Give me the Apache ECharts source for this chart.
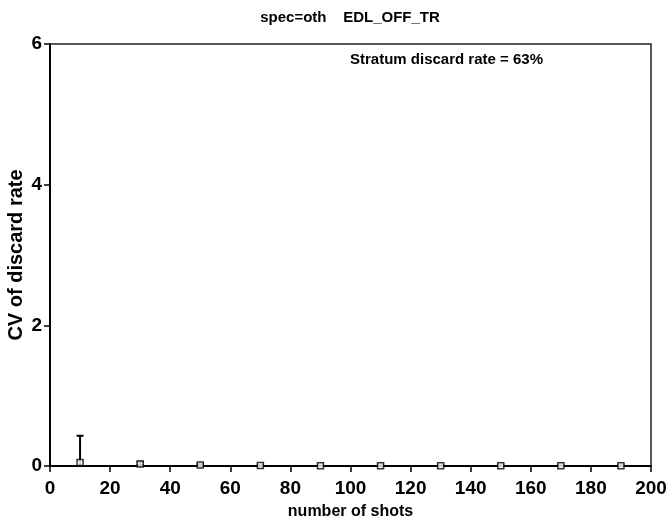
<!DOCTYPE html>
<html><head><meta charset="utf-8">
<script src="https://cdn.jsdelivr.net/npm/echarts@6/dist/echarts.min.js"></script>
<style>html,body{margin:0;padding:0;background:#fff}#c{width:672px;height:526px}</style>
</head><body><div id="c"></div>
<script>
var shots = [10, 30, 50, 70, 90, 110, 130, 150, 170, 190];
var cvMean = [0.05, 0.03, 0.015, 0.006, 0.005, 0.005, 0.005, 0.005, 0.005, 0.005];
var cvLow = [0.0, 0.015, 0.008, 0.003, 0.002, 0.002, 0.002, 0.002, 0.002, 0.002];
var cvHigh = [0.43, 0.06, 0.03, 0.01, 0.008, 0.008, 0.008, 0.008, 0.008, 0.008];
var xTicks = [0, 20, 40, 60, 80, 100, 120, 140, 160, 180, 200];
var yTicks = [0, 2, 4, 6];
var titleText = 'spec=oth    EDL_OFF_TR';
var noteText = 'Stratum discard rate = 63%';
var yTitle = 'CV of discard rate';
var xTitle = 'number of shots';

var font = 'Liberation Sans, Arial, sans-serif';
var chart = echarts.init(document.getElementById('c'));
var errData = shots.map(function (s, i) { return [s, cvLow[i], cvHigh[i]]; });
chart.setOption({
  animation: false,
  grid: { left: 50, right: 21, top: 44, bottom: 60, containLabel: false, outerBoundsMode: 'none',
    show: true, borderColor: '#222', borderWidth: 1.5 },
  xAxis: { type: 'value', min: 0, max: 200, interval: 20,
    name: xTitle, nameLocation: 'middle', nameGap: 38,
    nameTextStyle: { fontFamily: font, fontWeight: 'bold', fontSize: 16, color: '#000' },
    axisLine: { lineStyle: { color: '#000', width: 2 } },
    axisTick: { length: 6, lineStyle: { color: '#000', width: 1.5 } },
    axisLabel: { fontFamily: font, fontWeight: 'bold', fontSize: 19, color: '#000', margin: 13 },
    splitLine: { show: false } },
  yAxis: { type: 'value', min: 0, max: 6, interval: 2,
    axisLine: { show: true, lineStyle: { color: '#000', width: 2 } },
    axisTick: { show: true, length: 6, lineStyle: { color: '#000', width: 1.5 } },
    axisLabel: { fontFamily: font, fontWeight: 'bold', fontSize: 19, color: '#000', margin: 8 },
    splitLine: { show: false } },
  graphic: [
    { type: 'text', x: 350, y: 10,
      style: { text: titleText, textAlign: 'center', fontFamily: font, fontWeight: 'bold', fontSize: 15, fill: '#000' } },
    { type: 'text', x: 350, y: 52,
      style: { text: noteText, fontFamily: font, fontWeight: 'bold', fontSize: 15, fill: '#000' } },
    { type: 'text', x: 16, y: 255, rotation: Math.PI / 2,
      style: { text: yTitle, textAlign: 'center', textVerticalAlign: 'middle', fontFamily: font, fontWeight: 'bold', fontSize: 20, fill: '#000' } }
  ],
  series: [
    { type: 'custom', data: errData, z: 3,
      renderItem: function (params, api) {
        var x = api.value(0);
        var lo = api.coord([x, api.value(1)]);
        var hi = api.coord([x, api.value(2)]);
        var w = 3.5;
        return { type: 'group', children: [
          { type: 'line', shape: { x1: lo[0], y1: lo[1], x2: hi[0], y2: hi[1] }, style: { stroke: '#000', lineWidth: 2 } },
          { type: 'line', shape: { x1: hi[0] - w, y1: hi[1], x2: hi[0] + w, y2: hi[1] }, style: { stroke: '#000', lineWidth: 2 } },
          { type: 'line', shape: { x1: lo[0] - w, y1: lo[1], x2: lo[0] + w, y2: lo[1] }, style: { stroke: '#000', lineWidth: 2 } }
        ] };
      } },
    { type: 'scatter', z: 4, data: shots.map(function (s, i) { return [s, cvMean[i]]; }),
      symbol: 'rect', symbolSize: 6,
      itemStyle: { color: '#fff', borderColor: '#000', borderWidth: 1.5 } }
  ]
});
</script></body></html>
